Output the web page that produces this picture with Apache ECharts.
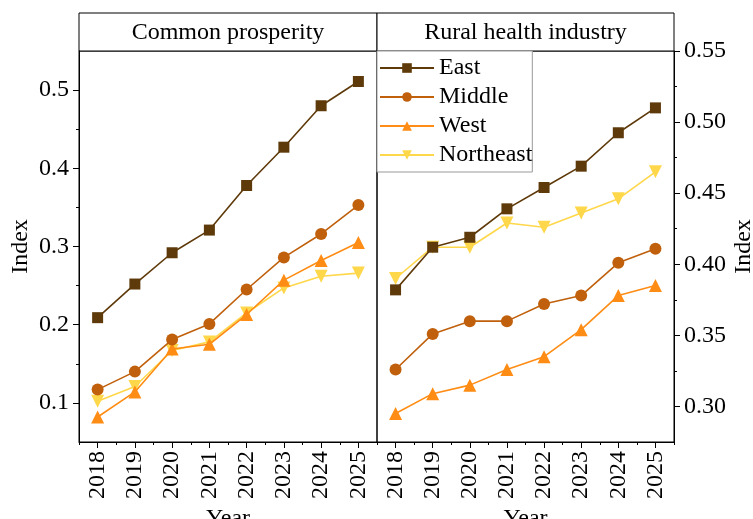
<!DOCTYPE html>
<html>
<head>
<meta charset="utf-8">
<script src="https://cdn.jsdelivr.net/npm/echarts@6/dist/echarts.min.js"></script>
<style>html,body{margin:0;padding:0;background:#fff}#c{width:753px;height:519px}</style>
</head>
<body>
<div id="c"></div>
<script>
const years = ['2018','2019','2020','2021','2022','2023','2024','2025'];
const seriesNames = ['East','Middle','West','Northeast'];
const colors = ['#5E3A0A','#C0600C','#FF8C14','#FFD74A'];
const symbols = ['rect','circle','triangle','path://M0,0 L10,0 L5,9 Z'];
const symbolSizes = [11,12,13,13];

// Common prosperity (left panel)
const cpEast      = [0.209,0.252,0.292,0.321,0.378,0.427,0.480,0.511];
const cpMiddle    = [0.117,0.140,0.181,0.201,0.245,0.286,0.316,0.353];
const cpWest      = [0.082,0.114,0.169,0.175,0.213,0.257,0.282,0.305];
const cpNortheast = [0.102,0.121,0.167,0.178,0.215,0.247,0.262,0.266];

// Rural health industry (right panel)
const rhEast      = [0.382,0.412,0.419,0.439,0.454,0.469,0.4925,0.510];
const rhMiddle    = [0.326,0.351,0.360,0.360,0.372,0.378,0.401,0.411];
const rhWest      = [0.295,0.309,0.315,0.326,0.335,0.354,0.378,0.385];
const rhNortheast = [0.390,0.412,0.412,0.429,0.426,0.436,0.446,0.465];

const leftTicks  = [0.1,0.2,0.3,0.4,0.5];
const leftMinor  = [0.15,0.25,0.35,0.45];
const rightTicks = [0.30,0.35,0.40,0.45,0.50,0.55];
const rightMinor = [0.325,0.375,0.425,0.475,0.525];

const font = 'Liberation Serif, Times New Roman, serif';
const fs = 24;

const chart = echarts.init(document.getElementById('c'));

function mkX(grid, main){
  return {
    type:'category', gridIndex:grid, data:years, boundaryGap:true, position:'bottom',
    axisLine:{show:main, lineStyle:{color:'#000',width:1}},
    axisTick:{show:true, alignWithLabel:main, length: main?6:3, lineStyle:{color:'#000'}},
    axisLabel:{show:main, rotate:90, margin:9, color:'#000', fontFamily:font, fontSize:fs},
    splitLine:{show:false},
    name: main?'Year':'', nameLocation:'middle', nameGap:64,
    nameTextStyle:{color:'#000', fontFamily:font, fontSize:fs}
  };
}
function mkY(grid, pos, min, max, ticks, main, digits){
  return {
    type:'value', gridIndex:grid, position:pos, min:min, max:max,
    axisLine:{show:main, lineStyle:{color:'#000',width:1}},
    axisTick:{show:true, customValues:ticks, length: main?6:3, lineStyle:{color:'#000'}},
    axisLabel:{show:main, customValues:ticks, margin:10, color:'#000', fontFamily:font, fontSize:fs,
      formatter:v=>v.toFixed(digits)},
    splitLine:{show:false},
    name: main?'Index':'', nameLocation:'middle', nameGap: pos==='left'?46:58, nameRotate:90,
    nameTextStyle:{color:'#000', fontFamily:font, fontSize:fs}
  };
}

const leftData = [cpEast,cpMiddle,cpWest,cpNortheast];
const rightData = [rhEast,rhMiddle,rhWest,rhNortheast];
const series = [];
seriesNames.forEach((n,i)=>{
  [[0,0,leftData[i]],[2,2,rightData[i]]].forEach(([xi,yi,d])=>{
    series.push({
      name:n, type:'line', xAxisIndex:xi, yAxisIndex:yi, data:d,
      symbol:symbols[i], symbolSize:symbolSizes[i], showAllSymbol:true,
      lineStyle:{color:colors[i], width:1.6},
      itemStyle:{color:colors[i]},
      z: 10-i, animation:false
    });
  });
});

chart.setOption({
  backgroundColor:'#fff',
  animation:false,
  grid:[
    {left:79, top:51, width:298, height:391, show:true, borderColor:'#000', borderWidth:1, containLabel:false, outerBoundsMode:'none'},
    {left:377, top:51, width:297, height:391, show:true, borderColor:'#000', borderWidth:1, containLabel:false, outerBoundsMode:'none'}
  ],
  xAxis:[mkX(0,true), mkX(0,false), mkX(1,true), mkX(1,false)],
  yAxis:[
    mkY(0,'left',0.05,0.55,leftTicks,true,1),
    mkY(0,'left',0.05,0.55,leftMinor,false,1),
    mkY(1,'right',0.275,0.55,rightTicks,true,2),
    mkY(1,'right',0.275,0.55,rightMinor,false,2)
  ],
  legend:{
    data:seriesNames, orient:'vertical', left:377, top:51,
    itemWidth:54, itemHeight:12, itemGap:5,
    backgroundColor:'#fff', borderColor:'#999', borderWidth:1, borderRadius:0,
    padding:[5,0,5,2],
    textStyle:{color:'#000', fontFamily:font, fontSize:fs}
  },
  graphic:[
    {type:'rect', shape:{x:79,y:13,width:298,height:38}, style:{fill:'#fff',stroke:'#000',lineWidth:1}},
    {type:'rect', shape:{x:377,y:13,width:297,height:38}, style:{fill:'#fff',stroke:'#000',lineWidth:1}},
    {type:'text', x:228, y:33, style:{text:'Common prosperity', font:fs+'px '+font, fill:'#000', align:'center', verticalAlign:'middle'}},
    {type:'text', x:525.5, y:33, style:{text:'Rural health industry', font:fs+'px '+font, fill:'#000', align:'center', verticalAlign:'middle'}}
  ],
  series:series
});
</script>
</body>
</html>
